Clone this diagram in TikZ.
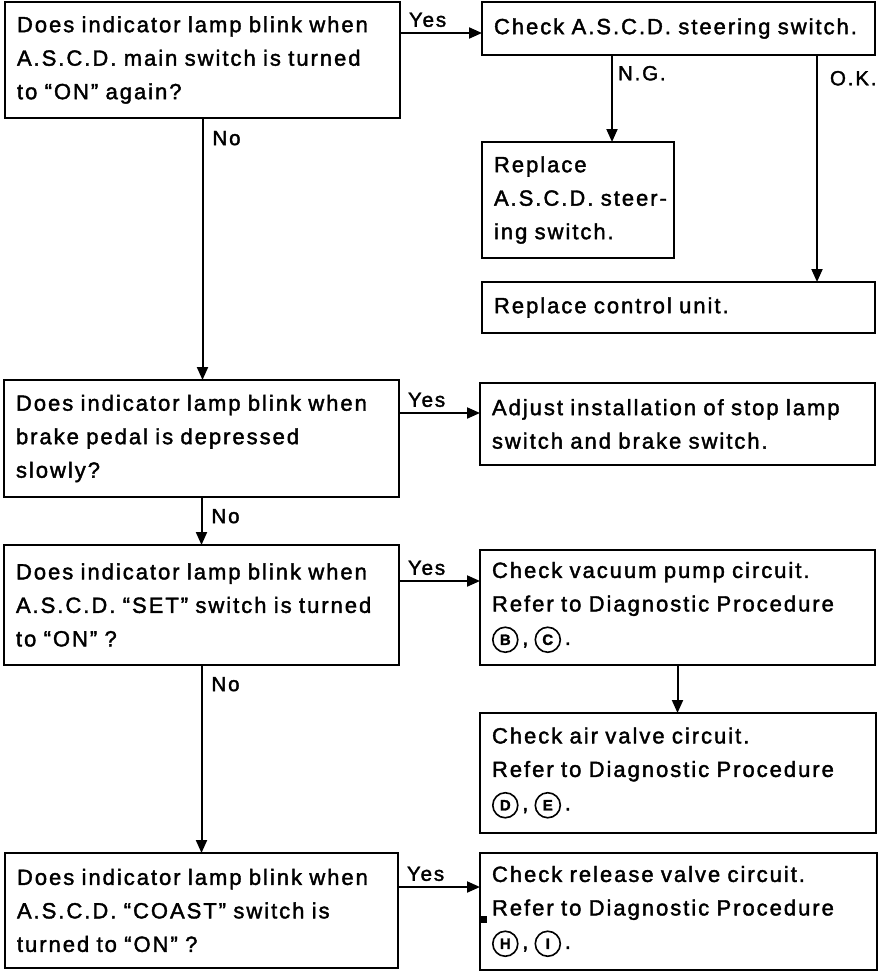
\documentclass[tikz,border=0pt]{standalone}
\usepackage{fontspec}
\setmainfont{Liberation Sans}[LetterSpace=9, FakeBold=1.8]
\usetikzlibrary{arrows.meta,positioning}

% circled letter (no installed font has these glyphs)
\newcommand{\circl}[1]{\tikz[baseline=(cl.base)]\node[circle, draw, line width=1.6pt,
  text width=, align=center, inner sep=0pt, minimum width=25pt, minimum height=25pt,
  font=\bfseries\fontsize{15}{15}\selectfont] (cl) {#1};}

\tikzset{
  box/.style={draw, line width=2.3pt, anchor=north west, align=left,
    inner xsep=12pt, inner ysep=0pt, outer sep=0pt,
    font=\fontsize{22}{33.5}\selectfont},
  arr/.style={line width=2pt, -{Triangle[width=11pt,length=13pt]}},
  lbl/.style={font=\fontsize{20.5}{24}\selectfont, inner sep=2pt},
}

\begin{document}
\begin{tikzpicture}[x=1pt,y=-1pt]
  \useasboundingbox (0,0) rectangle (896,974);

  % left column: questions
  \node[box, text width=371pt, minimum height=116pt] (q1) at (5,2)
    {Does indicator lamp blink when\\A.S.C.D. main switch is turned\\to ``ON'' again?};
  \node[box, text width=371pt, minimum height=117pt] (q2) at (4,380)
    {Does indicator lamp blink when\\brake pedal is depressed\\slowly?};
  \node[box, text width=371pt, minimum height=120pt] (q3) at (4,545)
    {Does indicator lamp blink when\\A.S.C.D. ``SET'' switch is turned\\to ``ON'' ?};
  \node[box, text width=369pt, minimum height=115pt] (q4) at (5,853)
    {Does indicator lamp blink when\\A.S.C.D. ``COAST'' switch is\\turned to ``ON'' ?};

  % right column: actions
  \node[box, text width=369pt, minimum height=53pt] (c1) at (482,2)
    {Check A.S.C.D. steering switch.};
  \node[box, text width=168pt, minimum height=116pt] (r1) at (482,142)
    {Replace\\\mbox{A.S.C.D. steer-}\\ing switch.};
  \node[box, text width=369pt, minimum height=51pt] (r2) at (482,282)
    {Replace control unit.};
  \node[box, text width=371pt, minimum height=82pt] (adj) at (480,383)
    {Adjust installation of stop lamp\\switch and brake switch.};
  \node[box, text width=371pt, minimum height=115pt] (vac) at (480,550)
    {Check vacuum pump circuit.\\Refer to Diagnostic Procedure\\\circl{B}\,,\;\circl{C}\,.};
  \node[box, text width=372pt, minimum height=120pt] (air) at (480,713)
    {Check air valve circuit.\\Refer to Diagnostic Procedure\\\circl{D}\,,\;\circl{E}\,.};
  \node[box, text width=373pt, minimum height=117pt] (rel) at (480,853)
    {Check release valve circuit.\\Refer to Diagnostic Procedure\\\circl{H}\,,\;\circl{I}\,.};
  \fill (481,916) rectangle (487,923);

  % Yes branches
  \coordinate (y1) at ([yshift=-31pt]q1.north east);
  \coordinate (y2) at ([yshift=-33pt]q2.north east);
  \coordinate (y3) at ([yshift=-36pt]q3.north east);
  \coordinate (y4) at ([yshift=-34pt]q4.north east);
  \draw[arr] (y1) -- (y1 -| c1.west) node[lbl, pos=0, above right, xshift=6pt, yshift=3pt] {Yes};
  \draw[arr] (y2) -- (y2 -| adj.west) node[lbl, pos=0, above right, xshift=6pt, yshift=3pt] {Yes};
  \draw[arr] (y3) -- (y3 -| vac.west) node[lbl, pos=0, above right, xshift=6pt, yshift=3pt] {Yes};
  \draw[arr] (y4) -- (y4 -| rel.west) node[lbl, pos=0, above right, xshift=6pt, yshift=3pt] {Yes};

  % No branches
  \draw[arr] (q1.south) -- (q1.south |- q2.north) node[lbl, pos=0, below right, xshift=7pt, yshift=-10pt] {No};
  \draw[arr] (q2.south) -- (q2.south |- q3.north) node[lbl, pos=0, below right, xshift=7pt, yshift=-9pt] {No};
  \draw[arr] (q3.south) -- (q3.south |- q4.north) node[lbl, pos=0, below right, xshift=7pt, yshift=-9pt] {No};

  % steering switch check
  \coordinate (ng) at ([xshift=130pt]c1.south west);
  \coordinate (ok) at ([xshift=335pt]c1.south west);
  \draw[arr] (ng) -- (ng |- r1.north) node[lbl, pos=0, below right, xshift=3pt, yshift=-8pt] {N.G.};
  \draw[arr] (ok) -- (ok |- r2.north) node[lbl, pos=0, below right, xshift=10pt, yshift=-13pt] {O.K.};

  \draw[arr] (vac.south) -- (vac.south |- air.north);
\end{tikzpicture}
\end{document}
